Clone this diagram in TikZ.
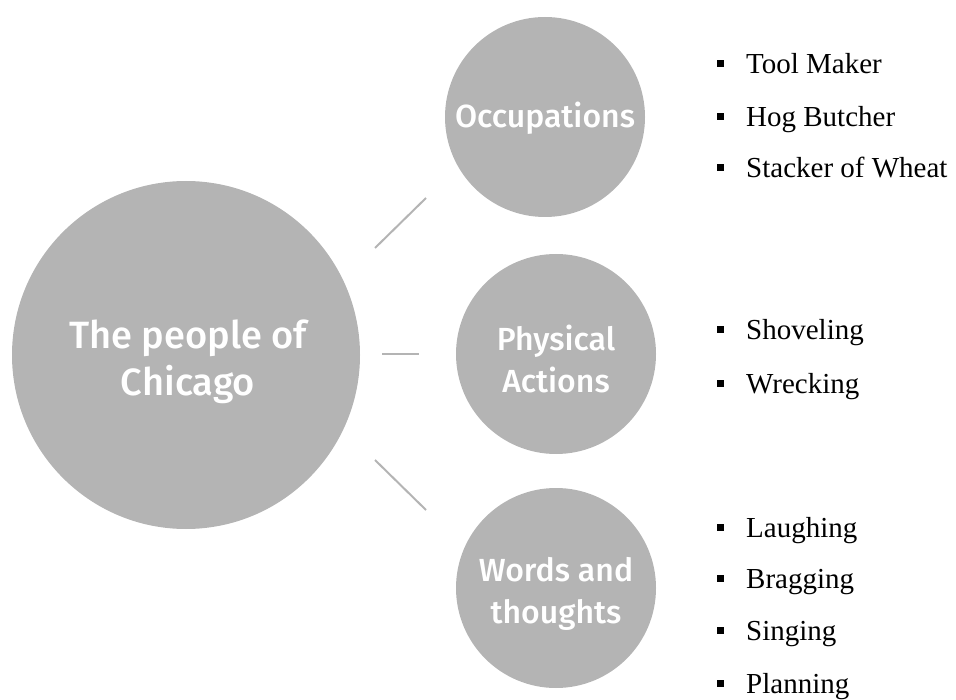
\documentclass[tikz,border=0pt]{standalone}
\usepackage{fontspec}
\setmainfont{Liberation Serif}
\newfontfamily\circfont{Fira Sans Medium}
\definecolor{discgray}{RGB}{180,180,180}
\begin{document}
\begin{tikzpicture}[x=1pt,y=-1pt,
  disc/.style={circle, fill=discgray, draw=none, inner sep=0pt},
  hubtext/.style={text=white, align=center, inner sep=0pt, font=\circfont\fontsize{38}{47}\selectfont},
  subtext/.style={text=white, align=center, inner sep=0pt, font=\circfont\fontsize{32}{42}\selectfont},
  link/.style={draw=discgray, line width=2pt},
  item/.style={anchor=base west, inner sep=0pt, font=\fontsize{29}{34}\selectfont},
  bulletsq/.style={rectangle, fill=black, draw=none, inner sep=0pt, minimum size=7pt}
]
\useasboundingbox (0,0) rectangle (956,700);

% central disc and the three satellite discs
\node[disc, minimum size=348pt] (hub) at (186,355) {};
\node[disc, minimum size=200pt] (occ) at (545,117) {};
\node[disc, minimum size=200pt] (phys) at (556,354) {};
\node[disc, minimum size=200pt] (words) at (556,588) {};

% disc captions
\node[hubtext] (hubcap) at (188,362) {The people of\\Chicago};
\node[subtext] (occcap) at (545,118) {Occupations};
\node[subtext] (physcap) at (556,359) {Physical\\Actions};
\node[subtext] (wordscap) at (556,594) {Words and\\thoughts};

% short connector strokes in the gaps
\coordinate (l1a) at (375,248); \coordinate (l1b) at (426,198);
\coordinate (l2a) at (382,354); \coordinate (l2b) at (419,354);
\coordinate (l3a) at (375,460); \coordinate (l3b) at (426,510);
\draw[link] (l1a) -- (l1b);
\draw[link] (l2a) -- (l2b);
\draw[link] (l3a) -- (l3b);

% bullet lists
\foreach \n/\y/\t in {a/74/Tool Maker, b/127/Hog Butcher, c/178/Stacker of Wheat,
                      d/340/Shoveling, e/394/Wrecking,
                      f/537/Laughing, g/588/Bragging, h/640/Singing, i/693/Planning}{
  \node[bulletsq] (b\n) at (720,\y-10) {};
  \node[item] (t\n) at (746,\y) {\t};
}
\end{tikzpicture}
\end{document}
